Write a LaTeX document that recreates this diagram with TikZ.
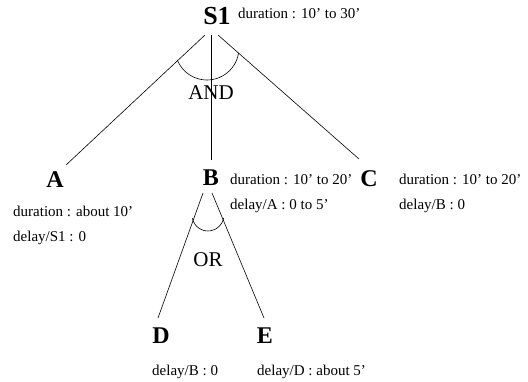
\documentclass[tikz,border=0pt]{standalone}
\usepackage{fontspec}
\setmainfont{Liberation Serif}
\begin{document}
\begin{tikzpicture}[x=1pt,y=1pt,
  letter/.style={font=\fontsize{24}{26}\selectfont\bfseries, inner sep=0pt},
  info/.style={font=\fontsize{15}{17}\selectfont, inner sep=0pt, anchor=west, text height=1.6ex, text depth=.3ex},
  gate/.style={font=\fontsize{21}{23}\selectfont, inner sep=0pt},
  edge/.style={line width=0.6pt}]
\useasboundingbox (0,0) rectangle (528,381);
% nodes
\node[letter, font=\fontsize{26}{28}\selectfont\bfseries] (S1) at (217,365) {S1};
\node[info] (s1d) at (238,365) {duration : 10’ to 30’};
\node[letter] (A) at (55,201) {A};
\node[letter] (B) at (211,203) {B};
\node[letter] (C) at (369,202) {C};
\node[info] (bd) at (230,199) {duration : 10’ to 20’};
\node[info] (bl) at (230,174) {delay/A : 0 to 5’};
\node[info] (cd) at (399,199) {duration : 10’ to 20’};
\node[info] (cl) at (399,174) {delay/B : 0};
\node[info] (ad) at (13,167) {duration : about 10’};
\node[info] (al) at (13,142) {delay/S1 : 0};
\node[letter] (D) at (161,45) {D};
\node[letter] (E) at (265,45) {E};
\node[info] (dl) at (152,8) {delay/B : 0};
\node[info] (el) at (257,8) {delay/D : about 5’};
\node[gate] (and) at (211,288) {AND};
\node[gate] (or) at (208,121) {OR};
% connector ends
\coordinate (s1L) at (205,346);
\coordinate (s1M) at (211,346);
\coordinate (s1R) at (218,346);
\coordinate (aT) at (66,216);
\coordinate (bT) at (211,221);
\coordinate (cT) at (359,222);
\coordinate (bL) at (203,188);
\coordinate (bR) at (212,188);
\coordinate (dT) at (158,63);
\coordinate (eT) at (264,63);
\coordinate (andc) at (207,333);
\coordinate (orc) at (208,166);
% connectors
\draw[edge] (s1L) -- (aT);
\draw[edge] (s1M) -- (bT);
\draw[edge] (s1R) -- (cT);
\draw[edge] (bL) -- (dT);
\draw[edge] (bR) -- (eT);
\draw[edge] ([shift={(202:32)}]andc) arc[start angle=202,end angle=351,radius=32];
\draw[edge] ([shift={(191:16)}]orc) arc[start angle=191,end angle=349,radius=16];
\end{tikzpicture}
\end{document}
